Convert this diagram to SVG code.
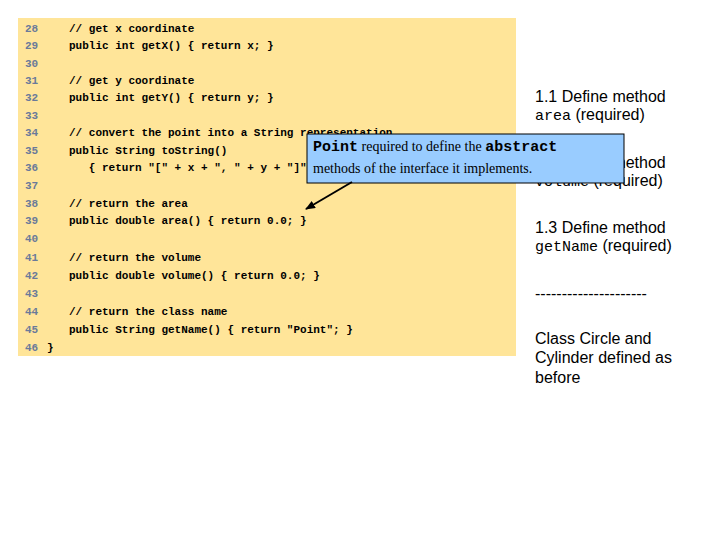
<svg xmlns="http://www.w3.org/2000/svg" width="720" height="540" viewBox="0 0 720 540">
<style>
.n{font-family:"Liberation Mono",monospace;font-size:11px;font-weight:bold;fill:#6a7a9a}
.c{font-family:"Liberation Mono",monospace;font-size:11px;font-weight:bold;fill:#000;white-space:pre}
.r{font-family:"Liberation Sans",Arial,sans-serif;font-size:16px;fill:#000}
.m{font-family:"Liberation Mono",monospace;font-size:15px}
.s{font-family:"Liberation Serif",serif;font-size:14px}
.sb{font-family:"Liberation Mono",monospace;font-size:15px;font-weight:bold}
</style>
<defs><marker id="a" markerWidth="10" markerHeight="8" refX="9" refY="4" orient="auto" markerUnits="userSpaceOnUse"><path d="M0,0L10,4L0,8z" fill="#000"/></marker></defs>
<rect width="720" height="540" fill="#fff"/>
<g id="code">
<rect x="18" y="18" width="498" height="338" fill="#FFE599"/>
<text class="n" x="25" y="32">28</text><text class="c" x="69" y="32">// get x coordinate</text>
<text class="n" x="25" y="49">29</text><text class="c" x="69" y="49">public int getX() { return x; }</text>
<text class="n" x="25" y="67">30</text>
<text class="n" x="25" y="84">31</text><text class="c" x="69" y="84">// get y coordinate</text>
<text class="n" x="25" y="101">32</text><text class="c" x="69" y="101">public int getY() { return y; }</text>
<text class="n" x="25" y="119">33</text>
<text class="n" x="25" y="136">34</text><text class="c" x="69" y="136">// convert the point into a String representation</text>
<text class="n" x="25" y="154">35</text><text class="c" x="69" y="154">public String toString()</text>
<text class="n" x="25" y="171">36</text><text class="c" x="69" y="171">   { return "[" + x + ", " + y + "]"; }</text>
<text class="n" x="25" y="189">37</text>
<text class="n" x="25" y="207">38</text><text class="c" x="69" y="207">// return the area</text>
<text class="n" x="25" y="224">39</text><text class="c" x="69" y="224">public double area() { return 0.0; }</text>
<text class="n" x="25" y="242">40</text>
<text class="n" x="25" y="261">41</text><text class="c" x="69" y="261">// return the volume</text>
<text class="n" x="25" y="279">42</text><text class="c" x="69" y="279">public double volume() { return 0.0; }</text>
<text class="n" x="25" y="297">43</text>
<text class="n" x="25" y="315">44</text><text class="c" x="69" y="315">// return the class name</text>
<text class="n" x="25" y="333">45</text><text class="c" x="69" y="333">public String getName() { return "Point"; }</text>
<text class="n" x="25" y="351">46</text><text class="c" x="47" y="351">}</text>
</g>
<g id="notes">
<text class="r" x="535" y="102">1.1 Define method</text>
<text class="r" x="535" y="120"><tspan class="m">area</tspan> (required)</text>
<text class="r" x="535" y="168">1.2 Define method</text>
<text class="r" x="535" y="186"><tspan class="m">volume</tspan> (required)</text>
<text class="r" x="535" y="233">1.3 Define method</text>
<text class="r" x="535" y="251"><tspan class="m">getName</tspan> (required)</text>
<text class="r" x="535" y="299">---------------------</text>
<text class="r" x="535" y="344">Class Circle and</text>
<text class="r" x="535" y="363">Cylinder defined as</text>
<text class="r" x="535" y="383">before</text>
</g>
<g id="callout">
<rect x="307" y="134" width="317" height="49" fill="#99CCFF" stroke="#000" stroke-width="1"/>
<text x="313" y="151"><tspan class="sb">Point</tspan><tspan class="s"> required to define the </tspan><tspan class="sb">abstract</tspan></text>
<text class="s" x="313" y="173">methods of the interface it implements.</text>
</g>
<g id="connectors">
<line x1="352" y1="182" x2="306" y2="209" stroke="#000" stroke-width="2" marker-end="url(#a)"/>
</g>
</svg>
